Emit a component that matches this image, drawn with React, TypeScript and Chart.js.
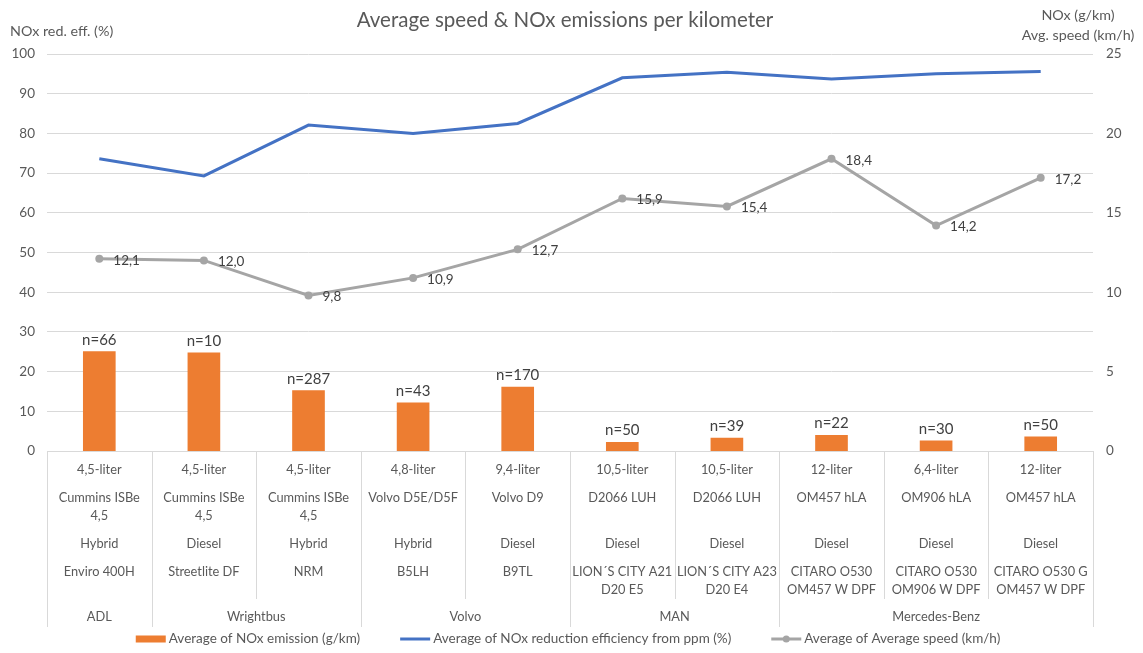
import React, { useEffect, useRef } from "react";
import { Chart, registerables } from "chart.js";

Chart.register(...registerables);

// ---------- data ----------
const liters = ["4,5-liter", "4,5-liter", "4,5-liter", "4,8-liter", "9,4-liter", "10,5-liter", "10,5-liter", "12-liter", "6,4-liter", "12-liter"];
const engines = [
  ["Cummins ISBe", "4,5"],
  ["Cummins ISBe", "4,5"],
  ["Cummins ISBe", "4,5"],
  ["Volvo D5E/D5F"],
  ["Volvo D9"],
  ["D2066 LUH"],
  ["D2066 LUH"],
  ["OM457 hLA"],
  ["OM906 hLA"],
  ["OM457 hLA"],
];
const fuels = ["Hybrid", "Diesel", "Hybrid", "Hybrid", "Diesel", "Diesel", "Diesel", "Diesel", "Diesel", "Diesel"];
const models = [
  ["Enviro 400H"],
  ["Streetlite DF"],
  ["NRM"],
  ["B5LH"],
  ["B9TL"],
  ["LION´S CITY A21", "D20 E5"],
  ["LION´S CITY A23", "D20 E4"],
  ["CITARO O530", "OM457 W DPF"],
  ["CITARO O530", "OM906 W DPF"],
  ["CITARO O530 G", "OM457 W DPF"],
];
const manufacturers = ["ADL", "Wrightbus", "Wrightbus", "Volvo", "Volvo", "MAN", "MAN", "Mercedes-Benz", "Mercedes-Benz", "Mercedes-Benz"];

const noxEmission = [6.26, 6.18, 3.8, 3.04, 4.03, 0.55, 0.81, 0.98, 0.64, 0.89];
const sampleCounts = ["n=66", "n=10", "n=287", "n=43", "n=170", "n=50", "n=39", "n=22", "n=30", "n=50"];
const noxReduction = [73.6, 69.3, 82.1, 80.0, 82.5, 94.0, 95.4, 93.7, 95.0, 95.6];
const avgSpeed = [12.1, 12.0, 9.8, 10.9, 12.7, 15.9, 15.4, 18.4, 14.2, 17.2];
const speedLabels = ["12,1", "12,0", "9,8", "10,9", "12,7", "15,9", "15,4", "18,4", "14,2", "17,2"];

const leftTicks = { min: 0, max: 100, step: 10 };
const rightTicks = { min: 0, max: 25, step: 5 };

const titleText = "Average speed & NOx emissions per kilometer";
const leftAxisTitle = "NOx red. eff. (%)";
const rightAxisTitle = ["NOx (g/km)", "Avg. speed (km/h)"];
const legendLabels = [
  "Average of NOx emission (g/km)",
  "Average of NOx reduction efficiency from ppm (%)",
  "Average of Average speed (km/h)",
];

// ---------- styles ----------
const FONT = "Lato, 'Open Sans', sans-serif";
const TEXT = "#595959";
const GRID = "#d9d9d9";
const ORANGE = "#ED7D31";
const BLUE = "#4472C4";
const GRAY = "#A5A5A5";
const LABEL_SIZE = 13.5;
const CAT_SIZE = 12.8;

const overlayPlugin = {
  id: "overlay",
  afterDatasetsDraw(chart: any) {
    const ctx = chart.ctx;
    ctx.save();
    // bar labels
    const barMeta = chart.getDatasetMeta(0);
    ctx.font = `15px ${FONT}`;
    ctx.fillStyle = "#404040";
    ctx.textAlign = "center";
    ctx.textBaseline = "alphabetic";
    barMeta.data.forEach((el: any, i: number) => {
      ctx.fillText(sampleCounts[i], el.x, el.y - 7);
    });
    // speed labels
    const spMeta = chart.getDatasetMeta(2);
    ctx.font = `13.5px ${FONT}`;
    ctx.textAlign = "left";
    ctx.textBaseline = "middle";
    spMeta.data.forEach((el: any, i: number) => {
      ctx.fillText(speedLabels[i], el.x + 14, el.y + 1.5);
    });
    ctx.restore();
  },
  afterDraw(chart: any) {
    const ctx = chart.ctx;
    const ca = chart.chartArea;
    const xs = chart.scales.x;
    const n = liters.length;
    const step = xs.getPixelForValue(1) - xs.getPixelForValue(0);
    const base = ca.bottom;
    ctx.save();

    // title
    ctx.fillStyle = TEXT;
    ctx.font = `20.5px ${FONT}`;
    ctx.textAlign = "center";
    ctx.textBaseline = "middle";
    ctx.fillText(titleText, 565, 20);

    // axis titles
    ctx.font = `14.3px ${FONT}`;
    ctx.textAlign = "left";
    ctx.fillText(leftAxisTitle, 10, 31);
    ctx.textAlign = "center";
    ctx.fillText(rightAxisTitle[0], 1078, 15);
    ctx.fillText(rightAxisTitle[1], 1078, 35);

    // category separators
    ctx.strokeStyle = GRID;
    ctx.lineWidth = 1;
    for (let i = 0; i <= n; i++) {
      const x = Math.round(xs.getPixelForValue(0) - step / 2 + i * step) + 0.5;
      const isGroup = i === 0 || i === n || manufacturers[i] !== manufacturers[i - 1];
      ctx.beginPath();
      ctx.moveTo(x, base);
      ctx.lineTo(x, base + (isGroup ? 176 : 148));
      ctx.stroke();
    }

    // category labels
    ctx.fillStyle = TEXT;
    ctx.font = `${CAT_SIZE}px ${FONT}`;
    ctx.textAlign = "center";
    ctx.textBaseline = "middle";
    for (let i = 0; i < n; i++) {
      const cx = xs.getPixelForValue(i);
      ctx.fillText(liters[i], cx, base + 19);
      engines[i].forEach((t, k) => ctx.fillText(t, cx, base + 47 + k * 18));
      ctx.fillText(fuels[i], cx, base + 93);
      models[i].forEach((t, k) => ctx.fillText(t, cx, base + 121 + k * 18));
    }
    // manufacturer groups
    let start = 0;
    for (let i = 1; i <= n; i++) {
      if (i === n || manufacturers[i] !== manufacturers[start]) {
        const cx = (xs.getPixelForValue(start) + xs.getPixelForValue(i - 1)) / 2;
        ctx.fillText(manufacturers[start], cx, base + 166);
        start = i;
      }
    }

    // legend
    ctx.font = `${LABEL_SIZE}px ${FONT}`;
    const symW = 30;
    const gapSym = 3;
    const gapItem = 40;
    const widths = legendLabels.map((t) => ctx.measureText(t).width);
    const total = widths.reduce((a, b) => a + b, 0) + 3 * (symW + gapSym) + 2 * gapItem;
    let lx = 568 - total / 2;
    const ly = 639;
    ctx.textAlign = "left";
    legendLabels.forEach((t, i) => {
      if (i === 0) {
        ctx.fillStyle = ORANGE;
        ctx.fillRect(lx, ly - 3.5, symW, 7);
      } else {
        ctx.strokeStyle = i === 1 ? BLUE : GRAY;
        ctx.lineWidth = 3;
        ctx.beginPath();
        ctx.moveTo(lx, ly);
        ctx.lineTo(lx + symW, ly);
        ctx.stroke();
        if (i === 2) {
          ctx.fillStyle = GRAY;
          ctx.beginPath();
          ctx.arc(lx + symW / 2, ly, 3.5, 0, Math.PI * 2);
          ctx.fill();
        }
      }
      ctx.fillStyle = TEXT;
      ctx.fillText(t, lx + symW + gapSym, ly);
      lx += symW + gapSym + widths[i] + gapItem;
    });

    ctx.restore();
  },
};

export default function App() {
  const canvasRef = useRef<HTMLCanvasElement | null>(null);

  useEffect(() => {
    if (!canvasRef.current) return;
    const chart = new Chart(canvasRef.current, {
      type: "bar",
      data: {
        labels: models.map((m) => m.join(" ")),
        datasets: [
          {
            type: "bar",
            label: legendLabels[0],
            data: noxEmission,
            backgroundColor: ORANGE,
            yAxisID: "y1",
            barThickness: 32,
            order: 3,
          },
          {
            type: "line",
            label: legendLabels[1],
            data: noxReduction,
            borderColor: BLUE,
            backgroundColor: BLUE,
            borderWidth: 3,
            pointRadius: 0,
            tension: 0,
            yAxisID: "y",
            order: 2,
          },
          {
            type: "line",
            label: legendLabels[2],
            data: avgSpeed,
            borderColor: GRAY,
            backgroundColor: GRAY,
            borderWidth: 3,
            pointRadius: 4,
            pointBorderWidth: 0,
            tension: 0,
            yAxisID: "y1",
            order: 1,
          },
        ] as any,
      },
      options: {
        responsive: false,
        animation: false,
        devicePixelRatio: 1,
        layout: { padding: { top: 54, left: 0, right: 0, bottom: 0 } },
        plugins: {
          legend: { display: false },
          title: { display: false },
          tooltip: { enabled: false },
        },
        scales: {
          x: {
            type: "category",
            offset: true,
            grid: { display: false },
            border: { display: true, color: GRID, width: 1 },
            ticks: { display: false },
            afterFit: (s: any) => {
              s.height = 202;
            },
          },
          y: {
            type: "linear",
            position: "left",
            min: leftTicks.min,
            max: leftTicks.max,
            ticks: {
              stepSize: leftTicks.step,
              color: TEXT,
              font: { family: FONT, size: LABEL_SIZE },
              padding: 12,
            },
            grid: { color: GRID, drawTicks: false, lineWidth: 1 },
            border: { display: false },
            afterFit: (s: any) => {
              s.width = 47;
            },
          },
          y1: {
            type: "linear",
            position: "right",
            min: rightTicks.min,
            max: rightTicks.max,
            ticks: {
              stepSize: rightTicks.step,
              color: TEXT,
              font: { family: FONT, size: LABEL_SIZE },
              padding: 13,
            },
            grid: { display: false, drawTicks: false },
            border: { display: false },
            afterFit: (s: any) => {
              s.width = 50;
            },
          },
        },
      } as any,
      plugins: [overlayPlugin],
    });
    return () => chart.destroy();
  }, []);

  return (
    <div style={{ position: "fixed", left: 0, top: 0, width: 1143, height: 653, background: "#fff" }}>
      <canvas ref={canvasRef} width={1143} height={653} style={{ width: 1143, height: 653, display: "block" }} />
    </div>
  );
}
